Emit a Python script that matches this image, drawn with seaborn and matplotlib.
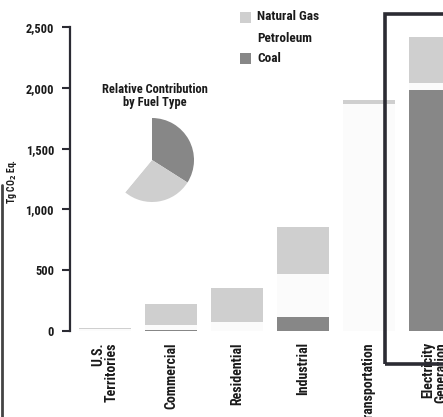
import matplotlib
matplotlib.use("Agg")
import matplotlib.pyplot as plt
from matplotlib.patches import Rectangle
import pandas as pd
import seaborn as sns

# Fossil-fuel CO2 emissions by end-use sector (Tg CO2 Eq.)
sectors = ["U.S.\nTerritories", "Commercial", "Residential", "Industrial",
           "Transportation", "Electricity\nGeneration"]
coal = [0, 8, 0, 113, 0, 1982]
petroleum = [18, 40, 76, 356, 1867, 55]
natural_gas = [8, 175, 280, 384, 33, 383]

# Relative contribution shares for the inset pie (%)
pie_fuels = ["Coal", "Natural Gas", "Petroleum"]
pie_shares = [34, 27, 39]

y_ticks = [0, 500, 1000, 1500, 2000, 2500]
y_tick_labels = ["0", "500", "1,000", "1,500", "2,000", "2,500"]

C_GAS = "#cfcfcf"
C_PET = "#fbfbfb"
C_COAL = "#878787"
INK = "#2b2b33"
TXT = "#1a1a1a"
W = 900

sns.set_theme(style="white")
plt.rcParams["font.family"] = ["Roboto Condensed", "DejaVu Sans"]
plt.rcParams["font.weight"] = W

df = pd.DataFrame({"sector": sectors, "coal": coal,
                   "petroleum": petroleum, "gas": natural_gas})
df["coal_pet"] = df["coal"] + df["petroleum"]
df["total"] = df["coal_pet"] + df["gas"]

fig = plt.figure(figsize=(4.43, 4.17), dpi=100)
ax = fig.add_axes([70 / 443, 86 / 417, 373 / 443, 304 / 417])

bw = 0.79
sns.barplot(data=df, x="sector", y="total", color=C_GAS, saturation=1,
            width=bw, errorbar=None, ax=ax, linewidth=0)
sns.barplot(data=df, x="sector", y="coal_pet", color=C_PET, saturation=1,
            width=bw, errorbar=None, ax=ax, linewidth=0)
sns.barplot(data=df, x="sector", y="coal", color=C_COAL, saturation=1,
            width=bw, errorbar=None, ax=ax, linewidth=0)

ax.set_xlim(-0.53, 5.12)
ax.set_ylim(0, 2500)
ax.set_yticks(y_ticks)
ax.set_yticklabels(y_tick_labels, fontsize=9, fontweight=W, color=TXT)
ax.set_xlabel("")
ax.set_ylabel("")
for s in ["top", "right", "bottom"]:
    ax.spines[s].set_visible(False)
ax.spines["left"].set_color(INK)
ax.spines["left"].set_linewidth(1.6)
ax.tick_params(axis="y", direction="out", length=6, width=1.5, color=INK,
               pad=5.5, left=True)
ax.tick_params(axis="x", length=0, pad=8)
ax.set_xticks(range(len(sectors)))
ax.set_xticklabels(sectors, rotation=90, ha="center", va="top",
                   multialignment="right", fontsize=10, fontweight=W,
                   color=TXT, linespacing=0.95)

fig.text(12 / 443, 1 - 181 / 417, "Tg CO$_2$ Eq.", rotation=90, ha="center",
         va="center", fontsize=7, fontweight=W, color=TXT)

# Highlight frame around electricity generation
ax.add_patch(Rectangle((4.24, -271), 3.0, 2878, fill=False, edgecolor=INK,
                       linewidth=2.6, clip_on=False, zorder=5))

# Legend
leg_items = [("Natural Gas", C_GAS, 17), ("Petroleum", C_PET, 38),
             ("Coal", C_COAL, 58)]
for name, col, yc in leg_items:
    if col != C_PET:
        fig.patches.append(Rectangle((240 / 443, 1 - (yc + 5.5) / 417),
                                     11 / 443, 11 / 417,
                                     transform=fig.transFigure,
                                     facecolor=col, edgecolor="none"))
    fig.text(257 / 443, 1 - yc / 417, name, ha="left", va="center",
             fontsize=9.5, fontweight=W, color=TXT)

# Inset pie of relative contribution
fig.text(155 / 443, 1 - 96 / 417, "Relative Contribution\nby Fuel Type",
         ha="center", va="center", fontsize=9, fontweight=W,
         color=TXT, linespacing=1.05)
pax = fig.add_axes([110 / 443, 1 - 202 / 417, 84 / 443, 84 / 417])
pax.pie(pie_shares, colors=[C_COAL, C_GAS, "white"], startangle=90,
        counterclock=False, radius=1, wedgeprops=dict(linewidth=0))
pax.set_xlim(-1, 1)
pax.set_ylim(-1, 1)
pax.set_aspect("equal")
pax.axis("off")

# Page edge
fig.add_artist(plt.Line2D([1.5 / 443, 1.5 / 443], [0, 1 - 185 / 417],
                          transform=fig.transFigure, color="#444",
                          linewidth=2))

fig.savefig("out.png", dpi=100)
